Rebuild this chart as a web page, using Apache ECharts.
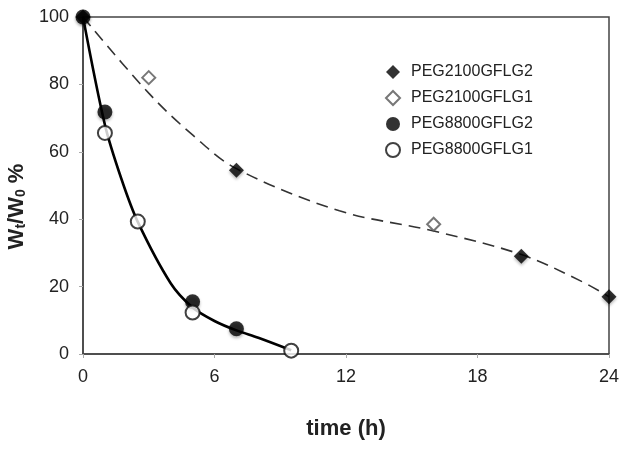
<!DOCTYPE html>
<html>
<head>
<meta charset="utf-8">
<script src="https://cdn.jsdelivr.net/npm/echarts@6/dist/echarts.min.js"></script>
<style>html,body{margin:0;padding:0;background:#fff;}#c{width:629px;height:453px;}</style>
</head>
<body>
<div id="c"></div>
<script>
// Measured data
const peg2100g2 = [[0, 100], [7, 54.5], [20, 29], [24, 17]];
const peg2100g1 = [[3, 82], [16, 38.5]];
const peg8800g2 = [[0, 100], [1, 71.8], [5, 15.5], [7, 7.5]];
const peg8800g1 = [[1, 65.6], [2.5, 39.3], [5, 12.3], [9.5, 1]];
// Trend curves
const trend2100 = [[0, 100], [3, 77.4], [5, 65], [7, 55], [11.7, 42.5], [16, 36.5], [20, 29.5], [22.7, 21.7], [24, 17]];
const trend8800 = [[0, 100], [1, 68], [1.75, 52], [2.5, 39.2], [4, 21], [5, 13.8], [6, 9.8], [7, 7], [8, 4.8], [9.5, 1.1]];
const xTicks = [0, 6, 12, 18, 24];
const yTicks = [0, 20, 40, 60, 80, 100];
const names = ['PEG2100GFLG2', 'PEG2100GFLG1', 'PEG8800GFLG2', 'PEG8800GFLG1'];

const font = '"Liberation Sans", Arial, sans-serif';
const shadow = {shadowColor: 'rgba(0,0,0,0.35)', shadowBlur: 3, shadowOffsetY: 2};

const chart = echarts.init(document.getElementById('c'), null, {renderer: 'canvas'});
chart.setOption({
  backgroundColor: '#fff',
  animation: false,
  grid: {left: 83, right: 20, top: 17, bottom: 99, containLabel: false, outerBoundsMode: 'none',
         show: true, borderColor: '#444', borderWidth: 1.5},
  legend: {
    orient: 'vertical', left: 380, top: 59, itemWidth: 14, itemHeight: 14, itemGap: 10,
    symbolKeepAspect: true,
    data: names,
    textStyle: {fontFamily: font, fontSize: 16, color: '#222', padding: [0, 0, 0, 6]}
  },
  xAxis: {
    type: 'value', min: xTicks[0], max: xTicks[xTicks.length - 1], interval: 6,
    name: 'time (h)', nameLocation: 'middle', nameGap: 64,
    nameTextStyle: {fontFamily: font, fontSize: 22, fontWeight: 'bold', color: '#222'},
    axisLine: {lineStyle: {color: '#444', width: 1.5}},
    axisTick: {show: true, length: 4, lineStyle: {color: '#aaa'}},
    axisLabel: {fontFamily: font, fontSize: 18, color: '#222', margin: 14},
    splitLine: {show: false}
  },
  yAxis: {
    type: 'value', min: yTicks[0], max: yTicks[yTicks.length - 1], interval: 20,
    name: '{a|W}{s|t}{a|/W}{s|0}{a| %}', nameLocation: 'middle', nameGap: 52, nameRotate: 90,
    nameTextStyle: {
      padding: [0, 42, 0, 0],
      rich: {
        a: {fontFamily: font, fontSize: 22, fontWeight: 'bold', color: '#222'},
        s: {fontFamily: font, fontSize: 14, fontWeight: 'bold', color: '#222', verticalAlign: 'bottom', padding: [9, 0, 0, 0]}
      }
    },
    axisLine: {lineStyle: {color: '#444', width: 1.5}},
    axisTick: {show: true, length: 4, lineStyle: {color: '#aaa'}},
    axisLabel: {fontFamily: font, fontSize: 18, color: '#222', margin: 14},
    splitLine: {show: false}
  },
  series: [
    {type: 'line', data: trend2100, smooth: 0.35, showSymbol: false, symbol: 'none', silent: true, z: 1,
     lineStyle: {color: '#333', width: 1.6, type: [12, 7]}},
    {type: 'line', data: trend8800, smooth: 0.3, showSymbol: false, symbol: 'none', silent: true, z: 1,
     lineStyle: {color: '#000', width: 2.6}},
    {name: names[0], type: 'scatter', data: peg2100g2, symbol: 'diamond', symbolSize: 15, z: 5,
     itemStyle: Object.assign({color: '#000'}, shadow)},
    {name: names[1], type: 'scatter', data: peg2100g1, symbol: 'emptyDiamond', symbolSize: 13, z: 5,
     itemStyle: {color: '#555', borderColor: '#555', borderWidth: 1.2}},
    {name: names[2], type: 'scatter', data: peg8800g2, symbol: 'circle', symbolSize: 15, z: 5,
     itemStyle: Object.assign({color: '#000'}, shadow)},
    {name: names[3], type: 'scatter', data: peg8800g1, symbol: 'emptyCircle', symbolSize: 14, z: 6,
     itemStyle: {color: '#111', borderColor: '#111', borderWidth: 1.5}}
  ]
});
</script>
</body>
</html>
